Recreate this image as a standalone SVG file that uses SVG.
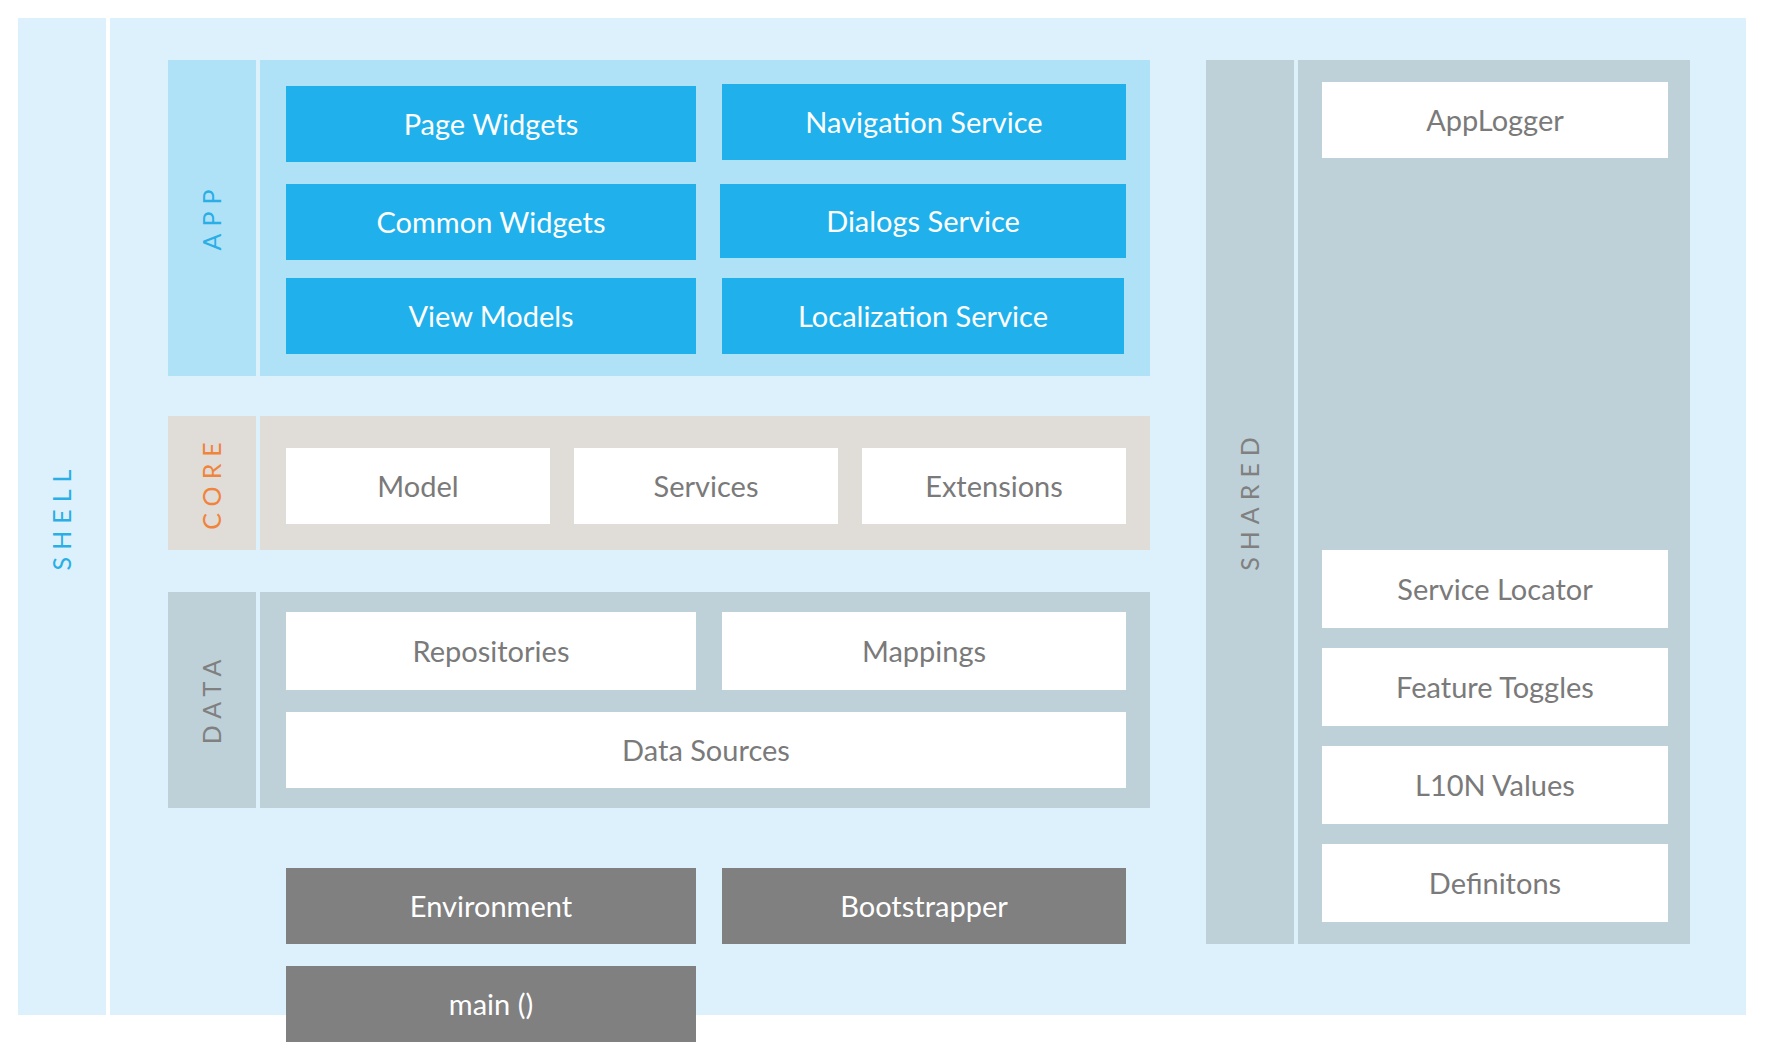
<svg xmlns="http://www.w3.org/2000/svg" width="1774" height="1058" viewBox="0 0 1774 1058">
<style>
.bg-shell{fill:#dcf1fc}
.bg-app{fill:#b0e2f7}
.bg-core{fill:#e0dcd8}
.bg-data{fill:#bed0d8}
.blue{fill:#20b1ec}
.white{fill:#ffffff}
.dark{fill:#808080}
text{font-family:Lato,"Noto Sans","Liberation Sans",sans-serif;font-size:29px;text-anchor:middle}
.tw{fill:#ffffff}
.tg{fill:#7a7a7a}
.lbl{font-size:25px;letter-spacing:7px}
.lb{fill:#29aee6}
.lo{fill:#f0843c}
.lg{fill:#808080}
</style>
<rect width="1774" height="1058" fill="#ffffff"/>
<g id="shell">
<rect class="bg-shell" x="18" y="18" width="88" height="997"/>
<rect class="bg-shell" x="110" y="18" width="1636" height="997"/>
<text class="lbl lb" transform="translate(71,520) rotate(-90)" x="3.5" y="0" letter-spacing="9">SHELL</text>
</g>
<g id="app">
<rect class="bg-app" x="168" y="60" width="88" height="316"/>
<rect class="bg-app" x="260" y="60" width="890" height="316"/>
<text class="lbl lb" transform="translate(221,220) rotate(-90)" x="3.5" y="0">APP</text>
</g>
<g id="page-widgets"><rect class="blue" x="286" y="86" width="410" height="76"/><text class="tw" x="491" y="134.5">Page Widgets</text></g>
<g id="navigation-service"><rect class="blue" x="722" y="84" width="404" height="76"/><text class="tw" x="924" y="132.5">Navigation Service</text></g>
<g id="common-widgets"><rect class="blue" x="286" y="184" width="410" height="76"/><text class="tw" x="491" y="232.5">Common Widgets</text></g>
<g id="dialogs-service"><rect class="blue" x="720" y="184" width="406" height="74"/><text class="tw" x="923" y="231.5">Dialogs Service</text></g>
<g id="view-models"><rect class="blue" x="286" y="278" width="410" height="76"/><text class="tw" x="491" y="326.5">View Models</text></g>
<g id="localization-service"><rect class="blue" x="722" y="278" width="402" height="76"/><text class="tw" x="923" y="326.5">Localization Service</text></g>
<g id="core">
<rect class="bg-core" x="168" y="416" width="88" height="134"/>
<rect class="bg-core" x="260" y="416" width="890" height="134"/>
<text class="lbl lo" transform="translate(221,486) rotate(-90)" x="3.5" y="0" letter-spacing="8">CORE</text>
</g>
<g id="model"><rect class="white" x="286" y="448" width="264" height="76"/><text class="tg" x="418" y="496.5">Model</text></g>
<g id="services"><rect class="white" x="574" y="448" width="264" height="76"/><text class="tg" x="706" y="496.5">Services</text></g>
<g id="extensions"><rect class="white" x="862" y="448" width="264" height="76"/><text class="tg" x="994" y="496.5">Extensions</text></g>
<g id="data">
<rect class="bg-data" x="168" y="592" width="88" height="216"/>
<rect class="bg-data" x="260" y="592" width="890" height="216"/>
<text class="lbl lg" transform="translate(221,702) rotate(-90)" x="3.5" y="0">DATA</text>
</g>
<g id="repositories"><rect class="white" x="286" y="612" width="410" height="78"/><text class="tg" x="491" y="661.5">Repositories</text></g>
<g id="mappings"><rect class="white" x="722" y="612" width="404" height="78"/><text class="tg" x="924" y="661.5">Mappings</text></g>
<g id="data-sources"><rect class="white" x="286" y="712" width="840" height="76"/><text class="tg" x="706" y="760.5">Data Sources</text></g>
<g id="environment"><rect class="dark" x="286" y="868" width="410" height="76"/><text class="tw" x="491" y="916.5">Environment</text></g>
<g id="bootstrapper"><rect class="dark" x="722" y="868" width="404" height="76"/><text class="tw" x="924" y="916.5">Bootstrapper</text></g>
<g id="main"><rect class="dark" x="286" y="966" width="410" height="76"/><text class="tw" x="491" y="1014.5">main ()</text></g>
<g id="shared">
<rect class="bg-data" x="1206" y="60" width="88" height="884"/>
<rect class="bg-data" x="1298" y="60" width="392" height="884"/>
<text class="lbl lg" transform="translate(1259,504) rotate(-90)" x="3.5" y="0">SHARED</text>
</g>
<g id="applogger"><rect class="white" x="1322" y="82" width="346" height="76"/><text class="tg" x="1495" y="130.5">AppLogger</text></g>
<g id="service-locator"><rect class="white" x="1322" y="550" width="346" height="78"/><text class="tg" x="1495" y="599.5">Service Locator</text></g>
<g id="feature-toggles"><rect class="white" x="1322" y="648" width="346" height="78"/><text class="tg" x="1495" y="697.5">Feature Toggles</text></g>
<g id="l10n-values"><rect class="white" x="1322" y="746" width="346" height="78"/><text class="tg" x="1495" y="795.5">L10N Values</text></g>
<g id="definitons"><rect class="white" x="1322" y="844" width="346" height="78"/><text class="tg" x="1495" y="893.5">Definitons</text></g>
<g id="connectors"></g>
</svg>
